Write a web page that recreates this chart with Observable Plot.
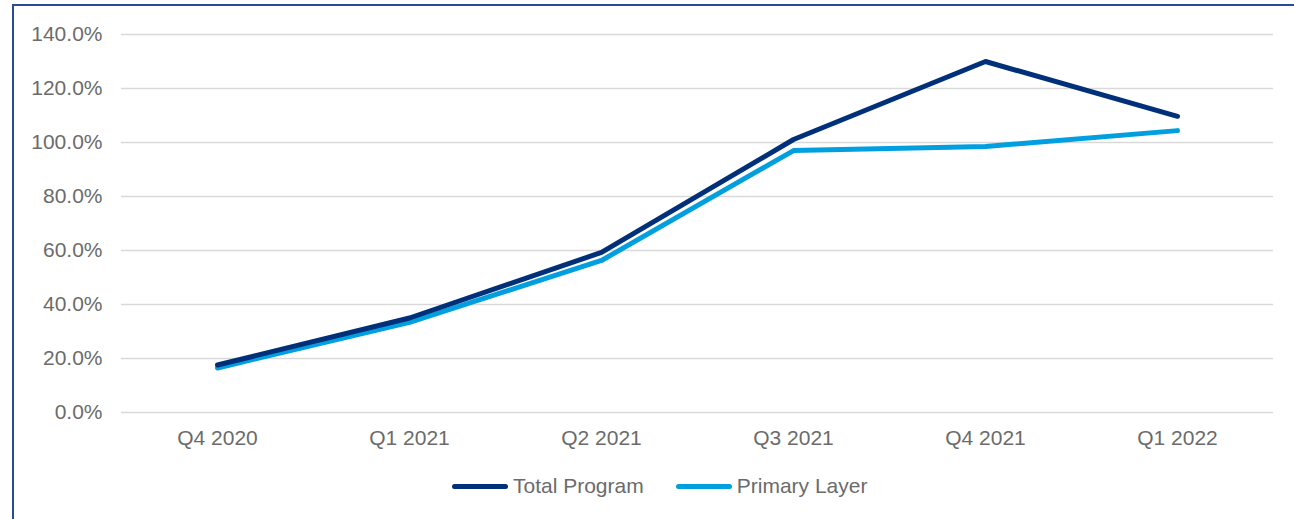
<!DOCTYPE html>
<html>
<head>
<meta charset="utf-8">
<script src="https://cdn.jsdelivr.net/npm/d3@7"></script>
<script src="https://cdn.jsdelivr.net/npm/@observablehq/plot@0.6"></script>
<style>
  html, body { margin: 0; padding: 0; background: #fff; }
  body { width: 1294px; height: 519px; overflow: hidden; position: relative; font-family: "Liberation Sans", Arial, sans-serif; }
  #frame { position: absolute; left: 12px; top: 4px; width: 1400px; height: 700px; border: 2px solid #2b4a94; box-sizing: border-box; pointer-events: none; }
  #chart { position: absolute; left: 0; top: 0; }
  #legend { position: absolute; left: 452px; top: 474px; display: flex; align-items: center; font-size: 21px; color: #6b6b6b; white-space: nowrap; }
  .item { display: flex; align-items: center; }
  .sw { width: 56px; height: 5px; border-radius: 3px; margin-right: 5px; }
</style>
</head>
<body>
<div id="frame"></div>
<div id="chart"></div>
<div id="legend"></div>
<script>
const quarters = ["Q4 2020", "Q1 2021", "Q2 2021", "Q3 2021", "Q4 2021", "Q1 2022"];
const totalProgram = [17.6, 35.0, 59.3, 101.1, 130.0, 109.7];
const primaryLayer = [16.5, 33.4, 56.3, 97.0, 98.5, 104.4];
const seriesNames = ["Total Program", "Primary Layer"];
const seriesColors = ["#00307a", "#009fdf"];
const yTicks = [0, 20, 40, 60, 80, 100, 120, 140];

const data = [];
quarters.forEach((q, i) => data.push({quarter: q, value: totalProgram[i], series: seriesNames[0]}));
quarters.forEach((q, i) => data.push({quarter: q, value: primaryLayer[i], series: seriesNames[1]}));

const plot = Plot.plot({
  width: 1294,
  height: 450,
  marginLeft: 121,
  marginRight: 21,
  marginTop: 34,
  marginBottom: 38,
  style: {fontFamily: '"Liberation Sans", Arial, sans-serif', fontSize: "21px", color: "#6b6b6b", background: "transparent"},
  x: {type: "point", domain: quarters, padding: 0.5, label: null},
  y: {domain: [0, 140], label: null},
  color: {domain: seriesNames, range: seriesColors},
  marks: [
    Plot.ruleY(yTicks, {stroke: "#d9d9d9", strokeWidth: 1.5}),
    Plot.axisY({ticks: yTicks, tickSize: 0, tickPadding: 19, tickFormat: d => d.toFixed(1) + "%", label: null, fill: "#6b6b6b"}),
    Plot.axisX({tickSize: 0, tickPadding: 18, label: null, fill: "#6b6b6b"}),
    Plot.line(data.filter(d => d.series === seriesNames[1]), {x: "quarter", y: "value", stroke: "series", strokeWidth: 5, strokeLinecap: "round", strokeLinejoin: "round"}),
    Plot.line(data.filter(d => d.series === seriesNames[0]), {x: "quarter", y: "value", stroke: "series", strokeWidth: 5, strokeLinecap: "round", strokeLinejoin: "round"})
  ]
});
document.getElementById("chart").appendChild(plot);

const legend = document.getElementById("legend");
seriesNames.forEach((name, i) => {
  const item = document.createElement("div");
  item.className = "item";
  if (i > 0) item.style.marginLeft = "32px";
  const sw = document.createElement("div");
  sw.className = "sw";
  sw.style.background = seriesColors[i];
  const t = document.createElement("span");
  t.textContent = name;
  item.appendChild(sw);
  item.appendChild(t);
  legend.appendChild(item);
});
</script>
</body>
</html>
